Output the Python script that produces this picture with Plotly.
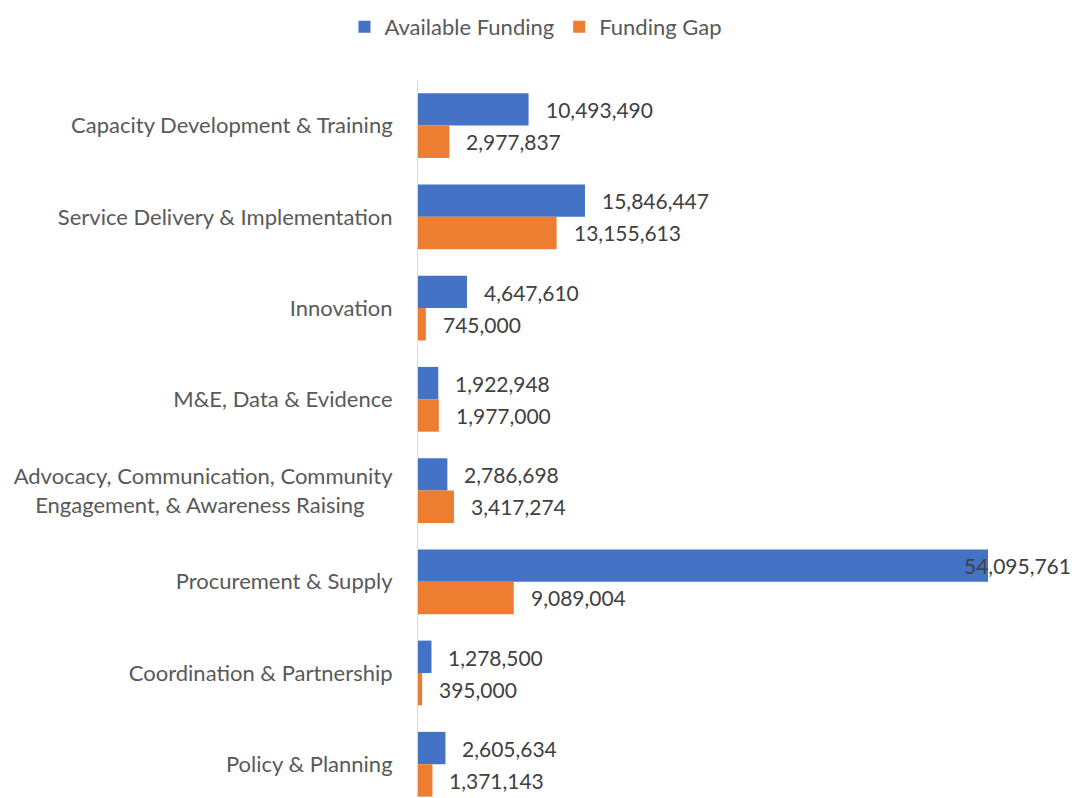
import plotly.graph_objects as go

categories = [
    "Capacity Development & Training",
    "Service Delivery & Implementation",
    "Innovation",
    "M&E, Data & Evidence",
    "Advocacy, Communication, Community<br>Engagement, & Awareness Raising\u00a0\u00a0\u00a0\u00a0\u00a0",
    "Procurement & Supply",
    "Coordination & Partnership",
    "Policy & Planning",
]
available_funding = [10493490, 15846447, 4647610, 1922948, 2786698, 54095761, 1278500, 2605634]
funding_gap = [2977837, 13155613, 745000, 1977000, 3417274, 9089004, 395000, 1371143]

BLUE = "#4472C4"
ORANGE = "#ED7D31"
FONT = "Lato"

fig = go.Figure()
fig.add_trace(go.Bar(y=categories, x=available_funding, orientation="h",
                     name="Available Funding", marker=dict(color=BLUE, line=dict(width=0))))
fig.add_trace(go.Bar(y=categories, x=funding_gap, orientation="h",
                     name="Funding Gap", marker=dict(color=ORANGE, line=dict(width=0))))

max_val = max(available_funding)
annotations = []
for series, shift in ((available_funding, 16), (funding_gap, -16)):
    for cat, v in zip(categories, series):
        annotations.append(dict(
            x=v, y=cat, xref="x", yref="y", text=f"{v:,}", showarrow=False,
            xanchor="left", yanchor="middle", xshift=(-26 if v == max_val else 15), yshift=shift,
            font=dict(family=FONT, size=21, color="#404040"),
        ))

fig.update_layout(
    width=1072, height=798,
    margin=dict(l=418, r=12, t=80, b=0),
    paper_bgcolor="white", plot_bgcolor="white",
    barmode="group", bargap=0.29, bargroupgap=0,
    font=dict(family=FONT, size=22, color="#595959"),
    showlegend=True,
    legend=dict(orientation="h", xref="container", yref="container",
                x=0.5, xanchor="center", y=1 - 27 / 798, yanchor="middle",
                font=dict(family=FONT, size=22, color="#595959"),
                itemwidth=30, traceorder="normal"),
    annotations=annotations,
    xaxis=dict(range=[0, 60.93e6], showgrid=False, zeroline=False, showticklabels=False,
               showline=False, ticks=""),
    yaxis=dict(categoryorder="array", categoryarray=categories, range=[7.37, -0.5],
               showgrid=False, zeroline=False, showline=True, linecolor="#D9D9D9", linewidth=1,
               ticks="", ticklabelstandoff=20,
               tickfont=dict(family=FONT, size=22, color="#595959")),
)

fig.write_html("out.html", config={"displayModeBar": False},
               post_script="document.body.style.margin='0';")
